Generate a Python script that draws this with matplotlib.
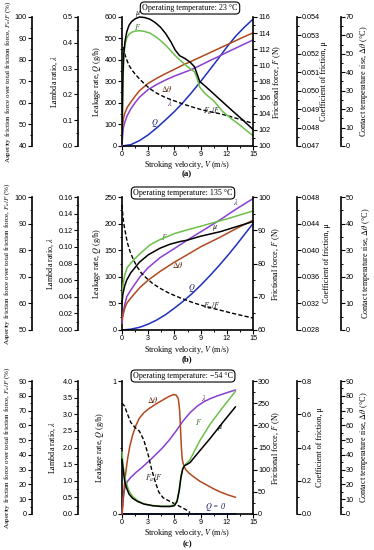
import matplotlib
matplotlib.use("Agg")
import matplotlib.pyplot as plt
from matplotlib.ticker import MultipleLocator, FormatStrFormatter

plt.rcParams['font.family'] = ['Liberation Serif', 'DejaVu Serif']
plt.rcParams['mathtext.fontset'] = 'stix'

GREEN = '#6cc04a'
BROWN = '#b0491e'
PURPLE = '#8a3fd1'
BLUE = '#1f2fbf'
LW = 1.1
SP = 1.2
TICKFS = 5.2
LABFS = 5.9

# ---------------- (a) 23 C ----------------
mu_a_v = [0, 0.05, 0.1, 0.2, 0.35, 0.55, 0.8, 1.1, 1.5, 2.0, 2.6, 3.2, 3.8, 4.4, 5.0, 5.6, 6.1, 6.6,
          7.2, 7.8, 8.3, 8.6, 8.9, 9.5, 10.5, 11.5, 12.5, 13.5, 14.5, 15]
mu_a = [0.0471, 0.0490, 0.0508, 0.0520, 0.0527, 0.0532, 0.05355, 0.05375, 0.0539, 0.0540, 0.05397,
        0.05388, 0.0537, 0.05345, 0.0531, 0.05265, 0.0522, 0.0519, 0.05175, 0.05155, 0.0513, 0.0509,
        0.0505, 0.05026, 0.04983, 0.0494, 0.04897, 0.04855, 0.04812, 0.0479]
F_a = [100.4, 104, 107.5, 111.0, 112.6, 113.4, 113.85, 114.1, 114.25, 114.3, 114.2, 114.0, 113.6,
       113.1, 112.5, 111.8, 111.2, 110.7, 110.1, 109.6, 109.2, 108.4, 107.3, 106.5, 105.6, 104.3,
       103.4, 102.6, 101.7, 101.3]
v_a = [0, 0.05, 0.15, 0.3, 0.6, 1.0, 1.5, 2.0, 3.0, 4.0, 5.0, 6.0, 7.0, 8.0, 9.0, 10.0, 11.0, 12.0,
       13.0, 14.0, 15.0]
dt_a = [7, 10, 14.5, 17.5, 21, 23.8, 27, 30, 34.0, 36.8, 39.3, 41.6, 44.0, 46.1, 48.3, 50.5, 52.7,
        54.9, 57.1, 59.3, 61.4]
lam_a = [0.0, 0.03, 0.07, 0.09, 0.118, 0.143, 0.168, 0.189, 0.219, 0.239, 0.256, 0.271, 0.284,
         0.297, 0.313, 0.330, 0.346, 0.363, 0.379, 0.395, 0.411]
q_a_v = [0, 1, 2, 3, 4, 5, 6, 7, 8, 9, 10, 11, 12, 13, 14, 15]
q_a = [0, 6, 25, 52, 85, 122, 160, 203, 250, 300, 352, 405, 460, 510, 552, 590]
fr_a_v = [0.15, 0.3, 0.5, 0.8, 1.2, 1.6, 2.0, 2.5, 3.0, 3.5, 4.0, 5.0, 6.0, 7.0, 8.0, 9.0, 10.0,
          11.0, 12.0, 13.0, 14.0, 15.0]
fr_a = [86, 83, 80.5, 77.5, 75, 73, 71.2, 69.2, 67.3, 65.8, 64.5, 62.5, 61, 59.5, 58.2, 57, 56,
        55.2, 54.2, 53, 51.8, 50.5]

# ---------------- (b) 135 C ----------------
mu_b_v = [0, 0.1, 0.3, 0.54, 1.0, 2.0, 3.0, 4.35, 5.5, 6.64, 7.45, 9, 11.3, 13, 15]
mu_b = [0.0320, 0.0334, 0.0346, 0.0355, 0.0366, 0.0382, 0.0393, 0.0403, 0.0409, 0.0413, 0.0415,
        0.0421, 0.0428, 0.0435, 0.0443]
F_b_v = [0, 0.1, 0.3, 0.6, 1.3, 2.0, 3.2, 4.35, 5.1, 6.0, 7.45, 9, 10.5, 12, 13.5, 15]
F_b = [69.2, 73.2, 76.4, 78.8, 81.0, 82.8, 85.6, 87.2, 88.0, 89.0, 90.1, 91.2, 92.3, 93.4, 94.6, 95.8]
lam_b_v = [0, 0.1, 0.3, 0.54, 1.0, 2.06, 3.0, 4.35, 6.0, 7.45, 9, 11.3, 13, 15]
lam_b = [0.008, 0.019, 0.030, 0.040, 0.048, 0.064, 0.075, 0.087, 0.098, 0.108, 0.118, 0.133,
         0.145, 0.158]
dt_b_v = [0, 0.1, 0.3, 0.54, 1.0, 2.06, 3.0, 4.35, 6, 7.45, 9, 11.3, 13, 15]
dt_b = [3.75, 5.5, 8, 10, 12, 16, 18.75, 22, 25.5, 28.25, 31.25, 35, 38, 41.25]
q_b_v = [0, 1, 2, 3, 4, 5, 6, 7, 8, 9, 10, 11, 12, 13, 14, 15]
q_b = [0, 1.5, 5, 11, 19, 29, 41, 54, 68, 84, 101, 119, 138, 158, 179, 200]
fr_b_v = [0, 0.1, 0.2, 0.34, 0.6, 0.92, 1.3, 1.68, 2.2, 2.83, 3.5, 4.35, 5.3, 6.27, 7.3, 8.2, 9.2,
          10.2, 11.3, 12.5, 13.8, 15]
fr_b = [97, 93, 90, 87.5, 83, 79.5, 76.5, 74, 71.5, 69.4, 67.5, 65.7, 64, 62.6, 61.3, 60.2, 59.2,
        58.3, 57.4, 56.4, 55.4, 54.5]

# ---------------- (c) -54 C ----------------
dt_c_v = [0, 0.1, 0.27, 0.45, 0.65, 0.9, 1.22, 1.6, 1.98, 2.5, 3.13, 3.9, 4.66, 5.3, 5.88, 6.2,
          6.45, 6.6, 6.7, 6.8, 6.9, 7.05, 7.3, 7.7, 8.2, 8.9, 9.7, 10.5, 11.3, 12.1, 13.0]
dt_c = [0, 6, 19.6, 29, 37.7, 46, 53.5, 60, 64.8, 68.5, 71.5, 74.5, 77.1, 79.3, 80.8, 80.5, 78,
        70, 58, 45, 37, 33, 30, 27.5, 25.2, 22.2, 19.6, 17, 14.8, 13, 11.3]
fr_c_v = [0, 0.3, 0.6, 1.0, 1.5, 2.0, 2.5, 3.0, 3.4, 3.8, 4.2, 4.7, 5.5, 6.5, 7.3, 7.8]
fr_c = [75, 73, 68, 62, 58.5, 56, 50, 40, 30, 22, 15, 11, 8.5, 5.5, 3, 1]
lam_c_v = [0, 0.1, 0.2, 0.35, 0.6, 1.0, 1.6, 2.2, 3.0, 3.8, 4.6, 5.4, 6.2, 7.0, 7.8, 8.6, 9.4,
           10.2, 11.0, 11.8, 12.5, 13.0]
lam_c = [0, 0.4, 0.62, 0.8, 0.97, 1.1, 1.25, 1.38, 1.57, 1.77, 1.98, 2.22, 2.5, 2.8, 3.05, 3.24,
         3.38, 3.48, 3.56, 3.63, 3.69, 3.73]
fm_c_v = [0, 0.1, 0.3, 0.5, 0.8, 1.2, 1.8, 2.5, 3.5, 4.5, 5.5, 6.0, 6.3, 6.55, 6.75, 6.95, 7.15,
          7.5, 7.8, 8.9, 10.1, 11.6, 13.0]
F_c = [140, 115, 85, 70, 52, 40, 30, 23, 19, 18, 18, 21, 30, 55, 85, 103, 110, 116, 123, 165, 203,
       242, 277]
mu_c = [0.33, 0.28, 0.2, 0.16, 0.12, 0.095, 0.075, 0.06, 0.05, 0.045, 0.045, 0.05, 0.075, 0.14,
        0.22, 0.27, 0.29, 0.30, 0.31, 0.38, 0.455, 0.555, 0.645]
q_c_v = [0, 13]
q_c = [0, 0]

W, H = 374, 550
fig = plt.figure(figsize=(W / 100, H / 100), dpi=100)


def style(a, lim, major, minor, fmt):
    a.set_ylim(lim)
    a.yaxis.set_major_locator(MultipleLocator(major))
    a.yaxis.set_minor_locator(MultipleLocator(minor))
    a.yaxis.set_major_formatter(FormatStrFormatter(fmt))
    a.tick_params(axis='y', which='major', length=2.6, width=0.8, labelsize=TICKFS, pad=1,
                  labelfontfamily='Liberation Sans')
    a.tick_params(axis='y', which='minor', length=1.4, width=0.7)


def side(ax, where, offset, lim, major, minor, fmt):
    t = ax.twinx()
    for s in t.spines.values():
        s.set_visible(False)
    if where == 'left':
        t.yaxis.tick_left()
    else:
        t.yaxis.tick_right()
    t.spines[where].set_visible(True)
    t.spines[where].set_position(('axes', offset))
    t.spines[where].set_linewidth(SP)
    style(t, lim, major, minor, fmt)
    return t


def panel(top, bottom, temp, box_xy, xlab_y, lims, labx, curves, tags):
    ax = fig.add_axes([122 / W, 1 - bottom / H, 131 / W, (bottom - top) / H])
    ax.spines['top'].set_visible(False)
    ax.spines['right'].set_visible(False)
    ax.spines['left'].set_linewidth(SP)
    ax.spines['bottom'].set_linewidth(SP)
    ax.set_xlim(0, 15)
    ax.xaxis.set_major_locator(MultipleLocator(3))
    ax.xaxis.set_minor_locator(MultipleLocator(1.5))
    ax.tick_params(axis='x', which='major', length=2.6, width=0.8, labelsize=TICKFS, pad=1,
                   labelfontfamily='Liberation Sans')
    ax.tick_params(axis='x', which='minor', length=1.4, width=0.7)
    style(ax, *lims['Q'])

    axL = side(ax, 'left', -0.336, *lims['lam'])
    axT = side(ax, 'right', 1.67, *lims['dt'])
    axA = side(ax, 'left', -0.687, *lims['fr'])
    axF = side(ax, 'right', 1.0, *lims['F'])
    axM = side(ax, 'right', 1.336, *lims['mu'])
    axes = {'Q': ax, 'lam': axL, 'dt': axT, 'fr': axA, 'F': axF, 'mu': axM}
    colors = {'Q': BLUE, 'lam': PURPLE, 'dt': BROWN, 'fr': 'black', 'F': GREEN, 'mu': 'black'}
    for key in ['Q', 'lam', 'dt', 'fr', 'F', 'mu']:
        v, y = curves[key]
        ls = (0, (3, 1.6)) if key == 'fr' else '-'
        axes[key].plot(v, y, color=colors[key], lw=LW if key != 'fr' else 1.0, ls=ls,
                       clip_on=False, solid_capstyle='round')

    for s, xf, yf, c in tags:
        ax.text(xf, yf, s, transform=ax.transAxes, fontsize=5.8, ha='center', va='center',
                color=c, style='italic')

    ax.text(box_xy[0], box_xy[1], 'Operating temperature: ' + temp,
            transform=fig.transFigure, fontsize=5.8, ha='center', va='center',
            bbox=dict(boxstyle='round,pad=0.25,rounding_size=0.5', fc='white', ec='black', lw=0.8))

    yc = 1 - (top + bottom) / 2 / H
    texts = [r'Asperity friction force over total friction force, $F_a/F$ (%)',
             r'Lambda ratio, $\lambda$', r'Leakage rate, $Q$ (g/h)', r'Frictional force, $F$ (N)',
             'Coefficient of friction, μ', r'Contact temperature rise, $\Delta\theta$ (°C)']
    for i, (x, s) in enumerate(zip(labx, texts)):
        fig.text(x / W, yc, s, rotation=90, ha='center', va='center',
                 fontsize=5.1 if i == 0 else LABFS)
    fig.text(187 / W, 1 - xlab_y / H, r'Stroking velocity, $V$ (m/s)', ha='center', va='center',
             fontsize=LABFS)
    return ax


panel(17, 146, '23 °C', (190 / W, 1 - 8 / H), 165,
      {'Q': ((0, 600), 100, 50, '%d'), 'lam': ((0, 0.5), 0.1, 0.05, '%.1f'),
       'dt': ((0, 70), 10, 5, '%d'), 'fr': ((40, 100), 10, 5, '%d'),
       'F': ((100, 116), 2, 1, '%d'), 'mu': ((0.047, 0.054), 0.001, 0.0005, '%.3f')},
      [8, 55, 97, 277, 324, 364],
      {'Q': (q_a_v, q_a), 'lam': (v_a, lam_a), 'dt': (v_a, dt_a), 'fr': (fr_a_v, fr_a),
       'F': (mu_a_v, F_a), 'mu': (mu_a_v, mu_a)},
      [(r'$\mu$', 0.12, 1.025, 'black'), (r'$F$', 0.12, 0.92, '#3c6e20'),
       (r'$\Delta\theta$', 0.341, 0.44, '#5a2a10'), (r'$\lambda$', 0.366, 0.331, '#4a2070'),
       (r'$Q$', 0.252, 0.176, '#101860'), (r'$F_a/F$', 0.687, 0.266, '#222222')])

panel(197, 330, '135 °C', (183 / W, 1 - 193 / H), 350,
      {'Q': ((0, 250), 50, 25, '%d'), 'lam': ((0, 0.16), 0.02, 0.01, '%.2f'),
       'dt': ((0, 50), 10, 5, '%d'), 'fr': ((50, 100), 10, 5, '%d'),
       'F': ((60, 100), 10, 5, '%d'), 'mu': ((0.028, 0.048), 0.004, 0.002, '%.3f')},
      [7, 51, 97, 276, 327, 366],
      {'Q': (q_b_v, q_b), 'lam': (lam_b_v, lam_b), 'dt': (dt_b_v, dt_b), 'fr': (fr_b_v, fr_b),
       'F': (F_b_v, F_b), 'mu': (mu_b_v, mu_b)},
      [(r'$F$', 0.328, 0.70, '#3c6e20'), (r'$\Delta\theta$', 0.43, 0.489, '#5a2a10'),
       (r'$Q$', 0.532, 0.314, '#101860'), (r'$\lambda$', 0.865, 0.965, '#4a2070'),
       (r'$\mu$', 0.712, 0.765, 'black'), (r'$F_a/F$', 0.687, 0.175, '#222222')])

panel(381, 514, '−54 °C', (183 / W, 1 - 376 / H), 533,
      {'Q': ((0, 1), 1, 0.5, '%d'), 'lam': ((0, 4), 0.5, 0.25, '%.1f'),
       'dt': ((0, 90), 10, 5, '%d'), 'fr': ((0, 90), 10, 5, '%d'),
       'F': ((0, 300), 50, 25, '%d'), 'mu': ((0, 0.8), 0.2, 0.1, '%.1f')},
      [7, 53, 100, 276, 320, 364],
      {'Q': (q_c_v, q_c), 'lam': (lam_c_v, lam_c), 'dt': (dt_c_v, dt_c), 'fr': (fr_c_v, fr_c),
       'F': (fm_c_v, F_c), 'mu': (fm_c_v, mu_c)},
      [(r'$\Delta\theta$', 0.239, 0.857, '#5a2a10'), (r'$F_a/F$', 0.239, 0.268, '#222222'),
       (r'$\lambda$', 0.624, 0.87, '#4a2070'), (r'$F$', 0.585, 0.694, '#3c6e20'),
       (r'$\mu$', 0.75, 0.644, 'black'), (r'$Q$ = 0', 0.712, 0.055, '#101860')])

for s, y in [('(a)', 174), ('(b)', 359), ('(c)', 544)]:
    fig.text(187 / W, 1 - y / H, s, ha='center', va='center', fontsize=6.4, fontweight='bold')

fig.savefig('out.png', dpi=100)
